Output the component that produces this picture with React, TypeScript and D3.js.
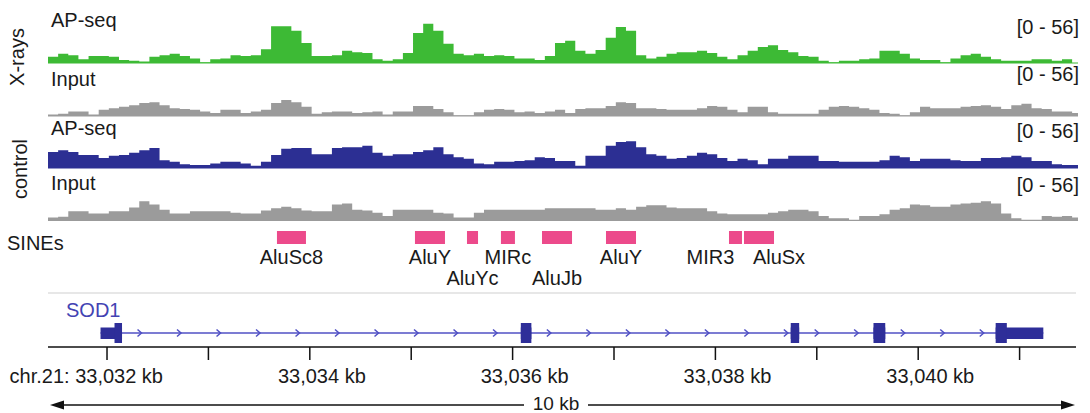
import React from "react";
import * as d3 from "d3";

// genomic window (kb) shown in the browser view
const viewStart = 33031.418;
const viewEnd = 33041.576;
const binSize = 0.1;

// coverage per 0.1 kb bin, data range [0 - 56]
const xrayAp = [
  8, 12, 10, 5, 9, 9, 8, 4, 3, 2, 8, 10, 12, 9, 6, 1, 5, 6, 10, 9,
  10, 18, 48, 48, 42, 26, 9, 9, 10, 16, 14, 13, 5, 3, 5, 13, 39, 51, 42, 25,
  12, 10, 12, 9, 10, 9, 6, 6, 4, 9, 26, 29, 16, 12, 17, 33, 47, 42, 10, 6,
  8, 12, 14, 14, 16, 13, 8, 5, 10, 16, 21, 23, 17, 14, 9, 8, 3, 1, 3, 3,
  5, 6, 16, 16, 12, 6, 4, 4, 1, 6, 10, 12, 8, 5, 3, 3, 3, 5, 5, 3, 5, 0,
];
const xrayInput = [
  2, 3, 6, 6, 2, 8, 10, 12, 14, 17, 18, 14, 10, 9, 8, 6, 4, 8, 8, 4,
  6, 8, 17, 21, 18, 12, 3, 5, 6, 6, 4, 5, 6, 2, 6, 6, 13, 13, 9, 5,
  1, 1, 5, 8, 9, 8, 5, 6, 4, 6, 8, 4, 9, 10, 10, 13, 18, 17, 10, 10,
  9, 8, 8, 8, 10, 13, 12, 8, 5, 12, 12, 5, 3, 3, 3, 3, 8, 12, 13, 12,
  10, 8, 4, 3, 1, 5, 12, 10, 10, 10, 12, 13, 14, 12, 9, 14, 16, 10, 9, 6, 6, 4,
];
const controlAp = [
  21, 23, 21, 17, 17, 13, 16, 17, 20, 23, 26, 10, 8, 5, 4, 4, 6, 8, 8, 6,
  3, 8, 17, 25, 26, 26, 18, 18, 26, 27, 27, 29, 20, 16, 18, 18, 21, 23, 27, 18,
  14, 12, 6, 5, 8, 8, 9, 10, 14, 13, 9, 9, 3, 16, 16, 29, 34, 35, 27, 18,
  16, 12, 13, 16, 20, 18, 13, 9, 12, 10, 5, 12, 12, 16, 16, 16, 9, 9, 8, 8,
  8, 8, 10, 16, 14, 9, 12, 12, 12, 10, 9, 9, 13, 13, 14, 16, 14, 9, 9, 5, 4, 4,
];
const controlInput = [
  4, 5, 12, 12, 9, 9, 12, 12, 17, 25, 21, 14, 9, 9, 12, 12, 12, 12, 10, 9,
  9, 13, 16, 18, 16, 13, 12, 12, 21, 22, 14, 13, 10, 6, 14, 14, 14, 14, 10, 9,
  4, 4, 10, 14, 14, 14, 14, 14, 14, 16, 16, 16, 16, 16, 14, 14, 16, 14, 18, 20,
  20, 17, 16, 16, 16, 12, 9, 8, 8, 8, 8, 10, 12, 14, 14, 12, 6, 3, 3, 1,
  6, 6, 8, 14, 16, 21, 20, 18, 18, 21, 22, 23, 25, 22, 9, 3, 1, 1, 6, 5, 6, 4,
];

const trackNames = ["AP-seq", "Input", "AP-seq", "Input"];
const groupNames = ["X-rays", "control"];
const dataRange = [0, 56];

// SINE repeats (kb)
const sineNames = ["AluSc8", "AluY", "AluYc", "MIRc", "AluJb", "AluY", "MIR3", "AluSx"];
const sineStart = [33033.676, 33035.037, 33035.55, 33035.885, 33036.29, 33036.921, 33038.134, 33038.282];
const sineEnd = [33033.962, 33035.333, 33035.659, 33036.023, 33036.586, 33037.217, 33038.262, 33038.578];
const sineRow = [0, 0, 1, 0, 1, 0, 0, 0];

// SOD1 gene model (kb)
const geneName = "SOD1";
const exonStart = [33031.936, 33036.081, 33038.743, 33039.559, 33040.764];
const exonEnd = [33032.148, 33036.185, 33038.826, 33039.675, 33041.234];
const cdsStart = 33032.074;
const cdsEnd = 33040.874;

const tickKb = d3.range(33032, 33042, 1);
const labelKb = [33032, 33034, 33036, 33038, 33040];
const scaleBarLabel = "10 kb";

const font = "'Liberation Sans', Arial, Helvetica, sans-serif";
const textColor = "#1a1a1a";
const trackColors = ["#3dba35", "#9b9b9b", "#2c2f93", "#9b9b9b"];

const App = () => {
  const width = 1090;
  const height = 413;
  const x = d3.scaleLinear().domain([viewStart, viewEnd]).range([48, 1078]);

  const trackBottom = [63, 116, 168, 220.5];
  const labelY = [27, 86, 135, 190];
  const rangeY = [34, 81, 138, 192];
  const trackHeight = 43;
  const series = [xrayAp, xrayInput, controlAp, controlInput];

  const tracks = series.map((values, i) => {
    const y = d3.scaleLinear().domain(dataRange).range([trackBottom[i], trackBottom[i] - trackHeight]);
    const pts = values.map((v, j) => ({ kb: viewStart + j * binSize, v }));
    pts.push({ kb: viewStart + values.length * binSize, v: values[values.length - 1] });
    const area = d3
      .area<{ kb: number; v: number }>()
      .x((d) => x(Math.min(d.kb, viewEnd)))
      .y0(trackBottom[i])
      .y1((d) => y(d.v))
      .curve(d3.curveStepAfter);
    return { d: area(pts), color: trackColors[i], name: trackNames[i], i };
  });

  // SINE label nudges where IGV pushes overlapping labels apart
  const labelShift: Record<string, number> = { MIR3: -25, AluSx: 20 };

  const geneY = 333;
  const exonX = exonStart.map((s, i) => [x(s), x(exonEnd[i])]);
  const arrows: number[] = [];
  for (let i = 0; i < exonX.length - 1; i++) {
    const a = exonX[i][1];
    const b = exonX[i + 1][0];
    for (let p = a + 17.5; p <= b - 3; p += 39.5) arrows.push(p);
  }

  const axisY = 347;
  const barY = 405;
  const barMid = 556;

  return (
    <svg
      width={width}
      height={height}
      style={{ position: "absolute", left: 0, top: 0, background: "#fff" }}
      fontFamily={font}
    >
      {/* group labels */}
      {groupNames.map((g, i) => (
        <text
          key={g}
          transform={`translate(${i === 0 ? 24 : 27}, ${i === 0 ? 57 : 169}) rotate(-90)`}
          textAnchor="middle"
          fontSize={20}
          fill={textColor}
        >
          {g}
        </text>
      ))}

      {/* coverage tracks */}
      {tracks.map((t) => (
        <g key={t.i}>
          <line x1={48} x2={1078} y1={trackBottom[t.i]} y2={trackBottom[t.i]} stroke={t.color} strokeWidth={1} />
          <path d={t.d || ""} fill={t.color} />
          <text x={51} y={labelY[t.i]} fontSize={20} fill={textColor}>
            {t.name}
          </text>
          <text x={1079} y={rangeY[t.i]} fontSize={20} textAnchor="end" fill={textColor}>
            {`[${dataRange[0]} - ${dataRange[1]}]`}
          </text>
        </g>
      ))}

      {/* SINEs */}
      <text x={7} y={250} fontSize={20} fill={textColor}>
        SINEs
      </text>
      {sineNames.map((n, i) => {
        const x0 = x(sineStart[i]);
        const x1 = x(sineEnd[i]);
        const cx = (x0 + x1) / 2 + (labelShift[n] || 0);
        return (
          <g key={i}>
            <rect x={x0} y={231} width={x1 - x0} height={13} fill="#ec4a8b" />
            <text x={cx} y={sineRow[i] === 0 ? 264 : 285} fontSize={20} textAnchor="middle" fill={textColor}>
              {n}
            </text>
          </g>
        );
      })}

      <line x1={48} x2={1076} y1={293} y2={293} stroke="#cfcfcf" strokeWidth={1.2} />

      {/* gene */}
      <text x={66} y={317} fontSize={20} fill="#4343b3">
        {geneName}
      </text>
      <line x1={exonX[0][0]} x2={exonX[exonX.length - 1][1]} y1={geneY} y2={geneY} stroke="#5050c4" strokeWidth={1.5} />
      {arrows.map((p, i) => (
        <path
          key={i}
          d={`M${p - 2},${geneY - 3.5} L${p + 2},${geneY} L${p - 2},${geneY + 3.5}`}
          fill="none"
          stroke="#5050c4"
          strokeWidth={1.5}
        />
      ))}
      {exonStart.map((s, i) => {
        const e = exonEnd[i];
        const a = Math.max(s, cdsStart);
        const b = Math.min(e, cdsEnd);
        return (
          <g key={i} fill="#2e2e99">
            <rect x={x(s)} y={geneY - 5.5} width={x(e) - x(s)} height={11.5} />
            {b > a && <rect x={x(a)} y={geneY - 10} width={x(b) - x(a)} height={20} />}
          </g>
        );
      })}

      {/* ruler */}
      <line x1={48} x2={1076} y1={axisY} y2={axisY} stroke="#111" strokeWidth={1.5} />
      {tickKb.map((k) => (
        <line key={k} x1={x(k)} x2={x(k)} y1={axisY} y2={axisY + 13} stroke="#111" strokeWidth={1.5} />
      ))}
      {labelKb.map((k, i) => (
        <text key={k} x={x(k) + 56} y={383} fontSize={20} textAnchor="end" fill={textColor}>
          {(i === 0 ? "chr.21: " : "") + d3.format(",")(k) + " kb"}
        </text>
      ))}

      {/* 10 kb scale bar */}
      <line x1={58} x2={barMid - 32} y1={barY} y2={barY} stroke="#111" strokeWidth={1.5} />
      <line x1={barMid + 32} x2={1064} y1={barY} y2={barY} stroke="#111" strokeWidth={1.5} />
      <path d={`M50,${barY} L64,${barY - 4.5} L64,${barY + 4.5} Z`} fill="#111" />
      <path d={`M1075,${barY} L1061,${barY - 4.5} L1061,${barY + 4.5} Z`} fill="#111" />
      <text x={barMid} y={barY + 5} fontSize={19} textAnchor="middle" fill={textColor}>
        {scaleBarLabel}
      </text>
    </svg>
  );
};

export default App;
